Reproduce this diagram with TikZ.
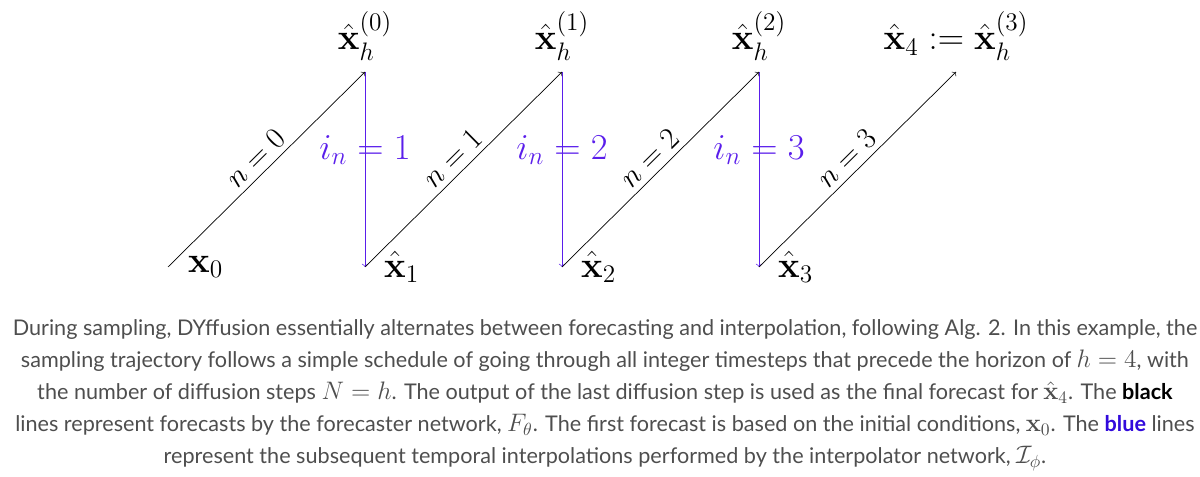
\documentclass[tikz,border=0pt]{standalone}
\usepackage{amsmath,amssymb}
\usepackage[no-math]{fontspec}
\setmainfont{Lato}
\usepackage{tikz}
\usetikzlibrary{positioning,calc}
\usepackage{xcolor}
\definecolor{interpblue}{RGB}{90,30,235}
\definecolor{textblue}{RGB}{50,10,220}
\definecolor{capgray}{RGB}{78,78,78}
\newcommand{\xh}{\hat{\mathbf{x}}}
\newcommand{\mcap}[1]{{\fontsize{14}{16}\selectfont$#1$}}

\begin{document}
\begin{tikzpicture}[every node/.style={font=\fontsize{19}{22}\selectfont},
    forecast/.style={->,black},
    interp/.style={->,interpblue},
    top label/.style={font=\fontsize{22}{26}\selectfont},
    bottom label/.style={font=\fontsize{20.5}{24}\selectfont},
    caption line/.style={anchor=base,text=capgray,font=\fontsize{12.3}{18}\selectfont}]
            \useasboundingbox (0,0) rectangle (24,9.54);
            % Define the shift between two time steps as a coordinate
            \coordinate (step) at (3.94,0);

            \foreach \i in {0,...,3} {
                \coordinate (b\i) at ($(3.36,4.2)+\i*(step)$);
                \coordinate (t\i) at ($(b\i)+(3.94,3.9)$);
            }

            \node[bottom label,right=0.28cm of b0] (x0) {$\mathbf{x}_0$};

            % interpolation steps
            \foreach \i/\n in {0/1,1/2,2/3} {
                \node[top label,above=0.1cm of t\i] (xh\i) {$\xh_h^{(\i)}$};
                \node[bottom label,right=0.26cm of b\n] (x\n) {$\xh_\n$};
                \draw[interp] (t\i) -- (b\n)
                    node[pos=0.4,font=\fontsize{20}{24}\selectfont] (in\n) {$i_n = \n$};
            }
            \node[top label,above=0.1cm of t3] (xh3) {$\xh_4 := \xh_h^{(3)}$};

            % forecast steps
            \foreach \i in {0,...,3}
                \draw[forecast] (b\i) -- (t\i) node[midway,sloped,above] (n\i) {$n = \i$};

            \node[caption line] (cap1) at (12.1,2.82) {During sampling, DYffusion essentially alternates between forecasting and interpolation, following Alg. 2. In this example, the};
            \node[caption line] (cap2) at (12.1,2.18) {sampling trajectory follows a simple schedule of going through all integer timesteps that precede the horizon of \mcap{h = 4}, with};
            \node[caption line] (cap3) at (12.1,1.54) {the number of diffusion steps \mcap{N = h}. The output of the last diffusion step is used as the final forecast for \mcap{\xh_4}. The \textcolor{black}{\textbf{black}}};
            \node[caption line] (cap4) at (12.1,0.90) {lines represent forecasts by the forecaster network, \mcap{F_\theta}. The first forecast is based on the initial conditions, \mcap{\mathbf{x}_0}. The \textcolor{textblue}{\textbf{blue}} lines};
            \node[caption line] (cap5) at (12.1,0.26) {represent the subsequent temporal interpolations performed by the interpolator network, \mcap{\mathcal{I}_\phi}.};

        \end{tikzpicture}
\end{document}
